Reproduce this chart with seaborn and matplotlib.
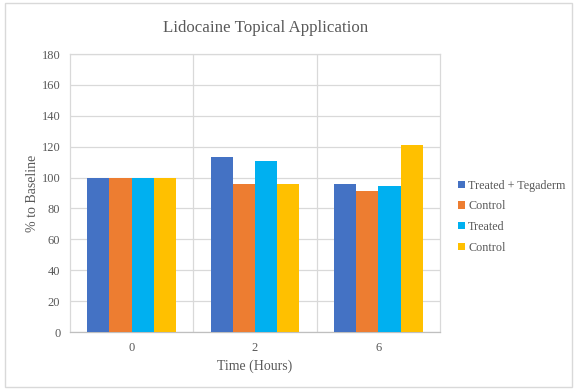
import matplotlib
matplotlib.use("Agg")
import matplotlib.pyplot as plt
import seaborn as sns
import pandas as pd
from matplotlib.patches import Rectangle, Patch

times = ["0", "2", "6"]
series = ["Treated + Tegaderm", "Control", "Treated", "Control"]
treated_tegaderm = [100, 113, 96]
control_1 = [100, 96, 91]
treated = [100, 110.5, 94.5]
control_2 = [100, 96, 121]
colors = ["#4472C4", "#ED7D31", "#00B0F0", "#FFC000"]

values = [treated_tegaderm, control_1, treated, control_2]
rows = []
for i, (name, vals) in enumerate(zip(series, values)):
    for t, v in zip(times, vals):
        rows.append({"Time": t, "key": f"s{i}", "value": v})
df = pd.DataFrame(rows)

sns.set_theme(style="white")
plt.rcParams["font.family"] = ["Liberation Serif", "DejaVu Serif"]

fig = plt.figure(figsize=(5.75, 3.9), dpi=100)
ax = fig.add_axes([0.1217, 0.1487, 0.6435, 0.7128])

sns.barplot(data=df, x="Time", y="value", hue="key", order=times,
            hue_order=[f"s{i}" for i in range(4)], palette=colors,
            width=0.72, saturation=1, ax=ax, legend=False, zorder=3,
            linewidth=0, edgecolor="none")

ax.set_ylim(0, 180)
ax.set_yticks(range(0, 181, 20))
ax.set_xlim(-0.5, 2.5)
ax.grid(axis="y", color="#D9D9D9", linewidth=0.9, zorder=0)
for xb in [0.5, 1.5]:
    ax.axvline(xb, color="#D9D9D9", linewidth=0.9, zorder=0)
for side in ["left", "right", "top"]:
    ax.spines[side].set_color("#D9D9D9")
    ax.spines[side].set_linewidth(0.9)
ax.spines["bottom"].set_color("#BFBFBF")
ax.spines["bottom"].set_linewidth(0.9)

ax.tick_params(axis="both", length=0, labelsize=9, labelcolor="#595959", pad=7)
ax.set_xlabel("Time (Hours)", fontsize=10, color="#595959", labelpad=4)
ax.set_ylabel("% to Baseline", fontsize=10, color="#595959", labelpad=2)

fig.suptitle("Lidocaine Topical Application", x=0.462, y=0.948,
             fontsize=12.2, color="#595959")

handles = [Patch(facecolor=c, edgecolor="none") for c in colors]
leg = fig.legend(handles, series, loc="upper left", bbox_to_anchor=(0.788, 0.552),
                 frameon=False, fontsize=8.7, labelcolor="#595959",
                 handlelength=0.55, handleheight=0.55, handletextpad=0.3,
                 labelspacing=0.72, borderaxespad=0)

fig.patches.append(Rectangle((0.009, 0.008), 0.985, 0.984, transform=fig.transFigure,
                             fill=False, edgecolor="#D9D9D9", linewidth=1.0))

fig.savefig("out.png", dpi=100)
